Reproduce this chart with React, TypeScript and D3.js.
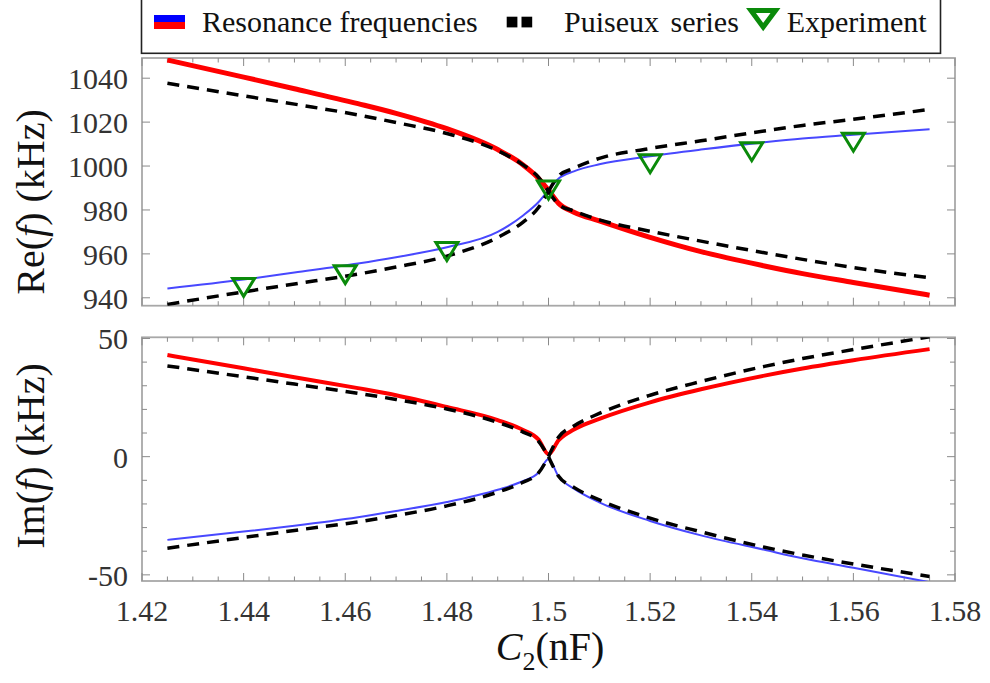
import React from "react";
import * as d3 from "d3";

// ---- Data ----
const cLeft = [1.425, 1.44, 1.45, 1.4625, 1.47, 1.48, 1.49, 1.495, 1.498, 1.5];
const cRight = [1.5, 1.502, 1.505, 1.51, 1.52, 1.53, 1.5425, 1.55, 1.56, 1.575];

// Re(f) (kHz)
const reRedLeft = [1048.3, 1040.5, 1035.2, 1028.4, 1024, 1017, 1007.5, 1000.5, 994.5, 989];
const reRedRight = [989, 983, 979, 975, 967.5, 961, 954.5, 951, 947, 941.2];
const reBlueLeft = [944.2, 948.3, 951.5, 955.6, 958.5, 963, 970, 977.5, 983.5, 989];
const reBlueRight = [989, 994.3, 997.6, 1000.8, 1004.5, 1007.5, 1010.8, 1012.5, 1014.2, 1016.8];
const rePuiseuxUpperLeft = [1037.7, 1032, 1028.2, 1023.3, 1019.8, 1014.8, 1007, 1000.5, 995, 988.5];
const rePuiseuxLowerLeft = [937, 942.7, 946.3, 950.8, 954, 959, 967.5, 974.5, 981, 988.5];
const rePuiseuxUpperRight = [988.5, 995.5, 999, 1003.5, 1008, 1011.5, 1016, 1018.5, 1021.3, 1025.8];
const rePuiseuxLowerRight = [988.5, 982.5, 979.5, 975.5, 970.3, 965.8, 960.5, 957.5, 953.8, 949.1];

// Im(f) (kHz)
const imRedLeft = [43, 37.4, 33.6, 29, 26, 21, 15.5, 11.3, 7.3, 1];
const imRedRight = [1, 7, 11.5, 16, 23, 28.5, 34.3, 37.3, 40.8, 45.5];
const imBlueLeft = [-35.2, -31.7, -29.2, -25.6, -23, -19.2, -14, -10.3, -6.8, -1];
const imBlueRight = [-1, -8.5, -13.5, -19.3, -27.2, -33.3, -39.4, -43, -47, -53.1];
const imPuiseuxUpperLeft = [38.4, 33.8, 30.7, 26.8, 24.2, 20.2, 14.5, 10.4, 6.6, 0];
const imPuiseuxLowerLeft = [-38.7, -34.2, -31.2, -27.6, -24.9, -20.8, -15, -10.8, -7, 0];
const imPuiseuxUpperRight = [0, 8.3, 13, 18.3, 26, 31.8, 38.2, 41.5, 45.3, 50.7];
const imPuiseuxLowerRight = [0, -8.3, -13, -18.3, -26, -31.8, -38.3, -41.6, -45.4, -50.7];

// Experiment
const expC = [1.44, 1.46, 1.48, 1.5, 1.52, 1.54, 1.56];
const expRe = [945.2, 951, 961.5, 989.5, 1001.5, 1007, 1011.3];

// Ticks
const xTicks = [1.42, 1.44, 1.46, 1.48, 1.5, 1.52, 1.54, 1.56, 1.58];
const xTickLabels = ["1.42", "1.44", "1.46", "1.48", "1.5", "1.52", "1.54", "1.56", "1.58"];
const reTicks = [940, 960, 980, 1000, 1020, 1040];
const imTicks = [-50, 0, 50];
const imMinorTicks = [-50, -40, -30, -20, -10, 0, 10, 20, 30, 40, 50];

const FONT = "'Liberation Serif', 'Times New Roman', serif";
const RED = "#ff0000";
const BLUE = "#4848ff";
const GREEN = "#0a8a0a";
const FRAME = "#a8a8a8";
const TICK = "#8a8a8a";
const TEXT = "#333";

const x = d3.scaleLinear().domain([1.42, 1.58]).range([142, 955]);
const yRe = d3.scaleLinear().domain([936.4, 1049.2]).range([305.7, 58]);
const yIm = d3.scaleLinear().domain([-52.6, 50.5]).range([581, 337.3]);

const join = (l: number[], r: number[]) => [...l, ...r.slice(1)];
const cAll = join(cLeft, cRight);

function makeLine(y: d3.ScaleLinear<number, number>) {
  return d3
    .line<[number, number]>()
    .x((d) => x(d[0]))
    .y((d) => y(d[1]))
    .curve(d3.curveMonotoneX);
}
const zipC = (cs: number[], vs: number[]) => cs.map((c, i) => [c, vs[i]] as [number, number]);

const xMinor = d3.range(0, 33).map((i) => 1.42 + i * 0.005);

function Panel({ y, top, bottom, yTicks, yMinor, labels, clipId }: any) {
  const left = 142;
  const right = 955;
  return (
    <g>
      <rect x={left} y={top} width={right - left} height={bottom - top} fill="none" stroke={FRAME} strokeWidth={1.8} />
      {xMinor.map((c, i) => {
        const major = i % 4 === 0;
        const len = major ? 8 : 4.5;
        return (
          <g key={"xt" + i}>
            <line x1={x(c)} x2={x(c)} y1={bottom} y2={bottom - len} stroke={TICK} strokeWidth={1} />
            <line x1={x(c)} x2={x(c)} y1={top} y2={top + len} stroke={TICK} strokeWidth={1} />
          </g>
        );
      })}
      {yMinor.map((v: number, i: number) => {
        const major = yTicks.includes(v);
        const len = major ? 8 : 5;
        return (
          <g key={"yt" + i}>
            <line x1={left} x2={left + len} y1={y(v)} y2={y(v)} stroke={TICK} strokeWidth={1} />
            <line x1={right} x2={right - len} y1={y(v)} y2={y(v)} stroke={TICK} strokeWidth={1} />
          </g>
        );
      })}
      {yTicks.map((v: number, i: number) => (
        <text key={"yl" + i} x={128} y={y(v) + 11} textAnchor="end" fontFamily={FONT} fontSize={30} fill={TEXT}>
          {labels[i]}
        </text>
      ))}
      <clipPath id={clipId}>
        <rect x={left} y={top} width={right - left} height={bottom - top} />
      </clipPath>
    </g>
  );
}

function Tri({ cx, cy }: { cx: number; cy: number }) {
  const hw = 11;
  return (
    <path
      d={`M${cx - hw},${cy - 8} L${cx + hw},${cy - 8} L${cx},${cy + 10} Z`}
      fill="none"
      stroke={GREEN}
      strokeWidth={3}
      strokeLinejoin="miter"
    />
  );
}

export default function App() {
  const lRe = makeLine(yRe);
  const lIm = makeLine(yIm);
  const dash = "12 8";
  return (
    <svg width={990} height={683} style={{ position: "absolute", left: 0, top: 0, background: "#fff" }}>
      <rect x={0} y={0} width={990} height={683} fill="#fff" />
      {/* Legend */}
      <rect x={141.5} y={-5} width={799} height={58.3} fill="#fff" stroke="#222" strokeWidth={1.6} />
      <rect x={154} y={15} width={31} height={7} fill="#0000ff" />
      <rect x={154} y={22} width={31} height={7} fill={RED} />
      <text x={202} y={31.7} fontFamily={FONT} fontSize={30} fill="#111">Resonance frequencies</text>
      <rect x={506.7} y={16.7} width={10.7} height={10.7} fill="#000" />
      <rect x={521.5} y={16.7} width={10.7} height={10.7} fill="#000" />
      <text x={564} y={31.7} fontFamily={FONT} fontSize={30} fill="#111" wordSpacing={4}>Puiseux series</text>
      <path d="M751,10.5 L775.5,10.5 L763.2,27 Z" fill="#fff" stroke={GREEN} strokeWidth={5} strokeLinejoin="miter" />
      <text x={786.7} y={31.7} fontFamily={FONT} fontSize={30} fill="#111">Experiment</text>

      {/* Top panel */}
      <Panel y={yRe} top={58} bottom={305.7} yTicks={reTicks} yMinor={reTicks} labels={reTicks.map(String)} clipId="clipRe" />
      <g clipPath="url(#clipRe)" fill="none">
        <path d={lRe(zipC(cAll, join(reRedLeft, reRedRight)))!} stroke={RED} strokeWidth={5} />
        <path d={lRe(zipC(cAll, join(reBlueLeft, reBlueRight)))!} stroke={BLUE} strokeWidth={2} />
        <path d={lRe(zipC(cLeft, rePuiseuxUpperLeft))!} stroke="#000" strokeWidth={3.5} strokeDasharray={dash} />
        <path d={lRe(zipC(cLeft, rePuiseuxLowerLeft))!} stroke="#000" strokeWidth={3.5} strokeDasharray={dash} />
        <path d={lRe(zipC(cRight, rePuiseuxUpperRight))!} stroke="#000" strokeWidth={3.5} strokeDasharray={dash} />
        <path d={lRe(zipC(cRight, rePuiseuxLowerRight))!} stroke="#000" strokeWidth={3.5} strokeDasharray={dash} />
      </g>
      {expC.map((c, i) => (
        <Tri key={"e" + i} cx={x(c)} cy={yRe(expRe[i])} />
      ))}

      {/* Bottom panel */}
      <Panel y={yIm} top={337.3} bottom={581} yTicks={imTicks} yMinor={imMinorTicks} labels={["-50", "0", "50"]} clipId="clipIm" />
      <g clipPath="url(#clipIm)" fill="none">
        <path d={lIm(zipC(cAll, join(imRedLeft, imRedRight)))!} stroke={RED} strokeWidth={4} />
        <path d={lIm(zipC(cAll, join(imBlueLeft, imBlueRight)))!} stroke={BLUE} strokeWidth={2} />
        <path d={lIm(zipC(cLeft, imPuiseuxUpperLeft))!} stroke="#000" strokeWidth={3.5} strokeDasharray={dash} />
        <path d={lIm(zipC(cLeft, imPuiseuxLowerLeft))!} stroke="#000" strokeWidth={3.5} strokeDasharray={dash} />
        <path d={lIm(zipC(cRight, imPuiseuxUpperRight))!} stroke="#000" strokeWidth={3.5} strokeDasharray={dash} />
        <path d={lIm(zipC(cRight, imPuiseuxLowerRight))!} stroke="#000" strokeWidth={3.5} strokeDasharray={dash} />
      </g>

      {/* X tick labels */}
      {xTicks.map((c, i) => (
        <text key={"xl" + i} x={x(c)} y={621} textAnchor="middle" fontFamily={FONT} fontSize={30} fill={TEXT}>
          {xTickLabels[i]}
        </text>
      ))}

      {/* Axis titles */}
      <text transform="translate(44,202) rotate(-90)" textAnchor="middle" fontFamily={FONT} fontSize={40} fill="#111">
        Re(<tspan fontStyle="italic">f</tspan>) (kHz)
      </text>
      <text transform="translate(44,456) rotate(-90)" textAnchor="middle" fontFamily={FONT} fontSize={40} fill="#111">
        Im(<tspan fontStyle="italic">f</tspan>) (kHz)
      </text>
      <text x={550} y={660} textAnchor="middle" fontFamily={FONT} fontSize={40} fill="#111">
        <tspan fontStyle="italic">C</tspan>
        <tspan fontSize={26} dy={10}>2</tspan>
        <tspan dy={-10}>(nF)</tspan>
      </text>
    </svg>
  );
}
